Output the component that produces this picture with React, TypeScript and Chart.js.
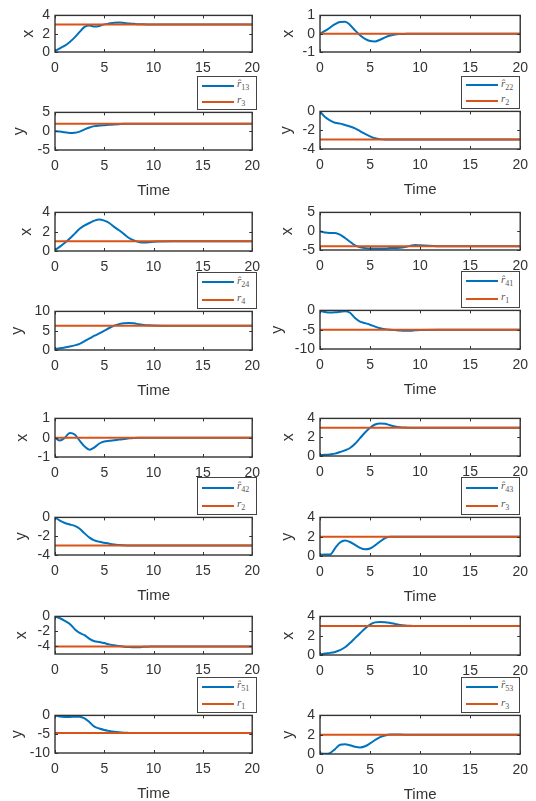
import React, { useEffect, useRef } from "react";
import { Chart, registerables } from "chart.js";

Chart.register(...registerables);

// ---------- data ----------
const TIME = [0, 0.5, 1, 1.5, 2, 2.5, 3, 3.5, 4, 4.5, 5, 5.5, 6, 6.5, 7, 7.5, 8, 8.5, 9, 9.5, 10, 12, 20];
const X_TICKS = [0, 5, 10, 15, 20];

const R13_X = [0.1, 0.4, 0.7, 1.1, 1.6, 2.2, 2.75, 2.9, 2.78, 2.85, 3.02, 3.12, 3.2, 3.22, 3.18, 3.12, 3.08, 3.04, 3.02, 3.01, 3.0, 3.0, 3.0];
const R13_Y = [0, -0.1, -0.3, -0.45, -0.4, -0.1, 0.5, 1.0, 1.35, 1.5, 1.6, 1.7, 1.8, 1.88, 1.95, 1.99, 2.0, 2.0, 2.0, 2.0, 2.0, 2.0, 2.0];
const R22_X = [0, 0.15, 0.33, 0.52, 0.64, 0.65, 0.48, 0.18, -0.08, -0.28, -0.4, -0.42, -0.33, -0.2, -0.1, -0.04, -0.02, -0.01, 0, 0, 0, 0, 0];
const R22_Y = [0, -0.6, -0.95, -1.2, -1.3, -1.45, -1.6, -1.8, -2.1, -2.4, -2.65, -2.85, -2.95, -3.0, -3.0, -3.0, -3.0, -3.0, -3.0, -3.0, -3.0, -3.0, -3.0];
const R24_X = [0.1, 0.45, 0.85, 1.3, 1.8, 2.3, 2.65, 2.9, 3.15, 3.27, 3.15, 2.9, 2.5, 2.15, 1.75, 1.35, 1.1, 0.93, 0.88, 0.9, 0.95, 1.0, 1.0];
const R24_Y = [0.3, 0.45, 0.65, 0.9, 1.2, 1.6, 2.3, 3.0, 3.7, 4.3, 5.0, 5.7, 6.3, 6.7, 6.95, 7.0, 6.9, 6.7, 6.5, 6.4, 6.35, 6.3, 6.3];
const R41_X = [0, -0.35, -0.45, -0.45, -0.9, -1.8, -2.8, -3.8, -4.3, -4.5, -4.6, -4.6, -4.6, -4.6, -4.5, -4.45, -4.4, -4.2, -3.9, -3.65, -3.75, -4.0, -4.0];
const R41_Y = [-0.1, -0.4, -0.55, -0.5, -0.35, -0.2, -0.6, -2.0, -2.9, -3.3, -3.7, -4.2, -4.6, -4.85, -5.0, -5.1, -5.2, -5.25, -5.25, -5.15, -5.05, -5.0, -5.0];
const R42_X = [0, -0.15, 0.0, 0.25, 0.17, -0.15, -0.45, -0.62, -0.5, -0.3, -0.2, -0.16, -0.13, -0.1, -0.07, -0.03, -0.01, 0, 0, 0, 0, 0, 0];
const R42_Y = [0, -0.35, -0.6, -0.75, -0.9, -1.2, -1.7, -2.15, -2.45, -2.6, -2.7, -2.8, -2.88, -2.93, -2.97, -2.98, -3.0, -3.0, -3.0, -3.0, -3.0, -3.0, -3.0];
const R43_X = [0.1, 0.12, 0.17, 0.25, 0.42, 0.6, 0.85, 1.3, 1.9, 2.5, 3.0, 3.35, 3.47, 3.42, 3.27, 3.15, 3.07, 3.03, 3.01, 3.0, 3.0, 3.0, 3.0];
const R43_Y = [0.13, 0.15, 0.15, 0.8, 1.4, 1.6, 1.45, 1.15, 0.85, 0.7, 0.78, 1.1, 1.5, 1.85, 2.0, 2.0, 2.0, 2.0, 2.0, 2.0, 2.0, 2.0, 2.0];
const R51_X = [0, -0.25, -0.6, -1.0, -1.7, -2.2, -2.5, -3.0, -3.3, -3.4, -3.55, -3.72, -3.85, -3.95, -4.02, -4.07, -4.1, -4.1, -4.05, -4.02, -4.0, -4.0, -4.0];
const R51_Y = [0, -0.3, -0.4, -0.4, -0.35, -0.35, -0.8, -1.8, -3.0, -3.5, -3.9, -4.15, -4.35, -4.5, -4.6, -4.65, -4.7, -4.7, -4.7, -4.7, -4.7, -4.7, -4.7];
const R53_X = [0.05, 0.15, 0.22, 0.32, 0.5, 0.8, 1.25, 1.75, 2.25, 2.75, 3.15, 3.38, 3.42, 3.4, 3.32, 3.22, 3.12, 3.06, 3.02, 3.0, 3.0, 3.0, 3.0];
const R53_Y = [0.06, 0.02, 0.1, 0.5, 0.95, 1.0, 0.9, 0.75, 0.68, 0.8, 1.1, 1.45, 1.75, 1.92, 2.02, 2.03, 2.01, 2.0, 2.0, 2.0, 2.0, 2.0, 2.0];

// reference targets [x, y]
const REF_R1_A = [-4, -5];
const REF_R1_B = [-4, -4.7];
const REF_R2 = [0, -3];
const REF_R3 = [3, 2];
const REF_R4 = [1, 6.3];

const TICKS_0_4 = [0, 2, 4];
const TICKS_M1_1 = [-1, 0, 1];
const TICKS_M4_0 = [-4, -2, 0];
const TICKS_M5_5 = [-5, 0, 5];
const TICKS_0_10 = [0, 5, 10];
const TICKS_M10_0 = [-10, -5, 0];

// ---------- styles ----------
const BLUE = "#0072BD";
const ORANGE = "#D95319";
const AXIS = "#333333";
const TEXT = "#333333";
const FONT = "'Liberation Sans', Arial, sans-serif";
const COL_W = 268;
const TOP_PAD = 10;

type PanelDef = {
  colLeft: number;
  plotLeft: number;
  plotRight: number;
  plotTop: number;
  plotBottom: number;
  est: number[];
  refValue: number;
  yMin: number;
  yMax: number;
  yTicks: number[];
  yTitle: string;
  yTitleCx: number;
  showTime: boolean;
};

type LegendDef = {
  left: number;
  top: number;
  width: number;
  height: number;
  estSub: string;
  refSub: string;
};

const L = { colLeft: 0, plotLeft: 55, plotRight: 256 };
const R = { colLeft: 268, plotLeft: 320, plotRight: 522 };

const PANELS: PanelDef[] = [
  { ...L, plotTop: 12, plotBottom: 52, est: R13_X, refValue: REF_R3[0], yMin: 0, yMax: 4, yTicks: TICKS_0_4, yTitle: "x", yTitleCx: 29, showTime: false },
  { ...L, plotTop: 109, plotBottom: 150, est: R13_Y, refValue: REF_R3[1], yMin: -5, yMax: 5, yTicks: TICKS_M5_5, yTitle: "y", yTitleCx: 20, showTime: true },
  { ...R, plotTop: 12, plotBottom: 52, est: R22_X, refValue: REF_R2[0], yMin: -1, yMax: 1, yTicks: TICKS_M1_1, yTitle: "x", yTitleCx: 21, showTime: false },
  { ...R, plotTop: 108, plotBottom: 149, est: R22_Y, refValue: REF_R2[1], yMin: -4, yMax: 0, yTicks: TICKS_M4_0, yTitle: "y", yTitleCx: 19, showTime: true },
  { ...L, plotTop: 209, plotBottom: 251, est: R24_X, refValue: REF_R4[0], yMin: 0, yMax: 4, yTicks: TICKS_0_4, yTitle: "x", yTitleCx: 27, showTime: false },
  { ...L, plotTop: 308, plotBottom: 350, est: R24_Y, refValue: REF_R4[1], yMin: 0, yMax: 10, yTicks: TICKS_0_10, yTitle: "y", yTitleCx: 18, showTime: true },
  { ...R, plotTop: 209, plotBottom: 250, est: R41_X, refValue: REF_R1_A[0], yMin: -5, yMax: 5, yTicks: TICKS_M5_5, yTitle: "x", yTitleCx: 20, showTime: false },
  { ...R, plotTop: 307, plotBottom: 349, est: R41_Y, refValue: REF_R1_A[1], yMin: -10, yMax: 0, yTicks: TICKS_M10_0, yTitle: "y", yTitleCx: 10, showTime: true },
  { ...L, plotTop: 415, plotBottom: 457, est: R42_X, refValue: REF_R2[0], yMin: -1, yMax: 1, yTicks: TICKS_M1_1, yTitle: "x", yTitleCx: 23, showTime: false },
  { ...L, plotTop: 514, plotBottom: 555, est: R42_Y, refValue: REF_R2[1], yMin: -4, yMax: 0, yTicks: TICKS_M4_0, yTitle: "y", yTitleCx: 22, showTime: true },
  { ...R, plotTop: 415, plotBottom: 456, est: R43_X, refValue: REF_R3[0], yMin: 0, yMax: 4, yTicks: TICKS_0_4, yTitle: "x", yTitleCx: 21, showTime: false },
  { ...R, plotTop: 514, plotBottom: 556, est: R43_Y, refValue: REF_R3[1], yMin: 0, yMax: 4, yTicks: TICKS_0_4, yTitle: "y", yTitleCx: 20, showTime: true },
  { ...L, plotTop: 613, plotBottom: 654, est: R51_X, refValue: REF_R1_B[0], yMin: -5, yMax: 0, yTicks: TICKS_M4_0, yTitle: "x", yTitleCx: 22, showTime: false },
  { ...L, plotTop: 712, plotBottom: 753, est: R51_Y, refValue: REF_R1_B[1], yMin: -10, yMax: 0, yTicks: TICKS_M10_0, yTitle: "y", yTitleCx: 18, showTime: true },
  { ...R, plotTop: 613, plotBottom: 655, est: R53_X, refValue: REF_R3[0], yMin: 0, yMax: 4, yTicks: TICKS_0_4, yTitle: "x", yTitleCx: 21, showTime: false },
  { ...R, plotTop: 712, plotBottom: 754, est: R53_Y, refValue: REF_R3[1], yMin: 0, yMax: 4, yTicks: TICKS_0_4, yTitle: "y", yTitleCx: 21, showTime: true },
];

const LEGENDS: LegendDef[] = [
  { left: 197, top: 76, width: 60, height: 34, estSub: "13", refSub: "3" },
  { left: 461, top: 76, width: 59, height: 33, estSub: "22", refSub: "2" },
  { left: 197, top: 272, width: 60, height: 37, estSub: "24", refSub: "4" },
  { left: 461, top: 271, width: 59, height: 37, estSub: "41", refSub: "1" },
  { left: 197, top: 477, width: 60, height: 38, estSub: "42", refSub: "2" },
  { left: 461, top: 477, width: 59, height: 38, estSub: "43", refSub: "3" },
  { left: 197, top: 677, width: 60, height: 36, estSub: "51", refSub: "1" },
  { left: 461, top: 677, width: 59, height: 36, estSub: "53", refSub: "3" },
];

const boxPlugin = {
  id: "matlabBox",
  afterDatasetsDraw(chart: any) {
    const { ctx, chartArea: a, scales } = chart;
    ctx.save();
    ctx.strokeStyle = AXIS;
    ctx.lineWidth = 1;
    const tl = 3;
    ctx.beginPath();
    scales.x.ticks.forEach((t: any) => {
      const px = Math.round(scales.x.getPixelForValue(t.value)) + 0.5;
      ctx.moveTo(px, a.bottom);
      ctx.lineTo(px, a.bottom - tl);
      ctx.moveTo(px, a.top);
      ctx.lineTo(px, a.top + tl);
    });
    scales.y.ticks.forEach((t: any) => {
      const py = Math.round(scales.y.getPixelForValue(t.value)) + 0.5;
      ctx.moveTo(a.left, py);
      ctx.lineTo(a.left + tl, py);
      ctx.moveTo(a.right, py);
      ctx.lineTo(a.right - tl, py);
    });
    ctx.stroke();
    ctx.lineWidth = 1.4;
    ctx.strokeRect(a.left, a.top, a.right - a.left, a.bottom - a.top);
    ctx.restore();
  },
};

function Panel({ p }: { p: PanelDef }) {
  const ref = useRef<HTMLCanvasElement>(null);
  const bottomH = p.showTime ? 50 : 30;
  const ch = TOP_PAD + (p.plotBottom - p.plotTop) + bottomH;
  const yAxisW = p.plotLeft - p.colLeft;
  const rightPad = COL_W - (p.plotRight - p.colLeft);

  useEffect(() => {
    const chart = new Chart(ref.current as HTMLCanvasElement, {
      type: "line",
      data: {
        datasets: [
          {
            data: TIME.map((t, i) => ({ x: t, y: p.est[i] })),
            borderColor: BLUE,
            borderWidth: 2,
            pointRadius: 0,
            cubicInterpolationMode: "monotone",
            order: 1,
          },
          {
            data: [
              { x: X_TICKS[0], y: p.refValue },
              { x: X_TICKS[X_TICKS.length - 1], y: p.refValue },
            ],
            borderColor: ORANGE,
            borderWidth: 2,
            pointRadius: 0,
            order: 0,
          },
        ],
      } as any,
      options: {
        animation: false,
        responsive: false,
        devicePixelRatio: 1,
        events: [],
        layout: { padding: { left: 0, top: TOP_PAD, right: rightPad, bottom: 0 } },
        plugins: { legend: { display: false }, tooltip: { enabled: false } },
        scales: {
          x: {
            type: "linear",
            min: X_TICKS[0],
            max: X_TICKS[X_TICKS.length - 1],
            afterBuildTicks: (s: any) => {
              s.ticks = X_TICKS.map((v) => ({ value: v }));
            },
            afterFit: (s: any) => {
              s.height = bottomH;
            },
            grid: { display: false, drawTicks: false },
            border: { display: false },
            ticks: {
              font: { family: FONT, size: 14 },
              color: TEXT,
              padding: 8,
              maxRotation: 0,
              autoSkip: false,
              callback: (v: any) => String(v),
            },
            title: {
              display: p.showTime,
              text: "Time",
              font: { family: FONT, size: 15 },
              color: TEXT,
              padding: { top: 0, bottom: 0 },
            },
          },
          y: {
            type: "linear",
            min: p.yMin,
            max: p.yMax,
            afterBuildTicks: (s: any) => {
              s.ticks = p.yTicks.map((v) => ({ value: v }));
            },
            afterFit: (s: any) => {
              s.width = yAxisW;
            },
            grid: { display: false, drawTicks: false },
            border: { display: false },
            ticks: {
              font: { family: FONT, size: 14 },
              color: TEXT,
              padding: 5,
              autoSkip: false,
              callback: (v: any) => String(v),
            },
            title: {
              display: true,
              text: p.yTitle,
              font: { family: FONT, size: 16 },
              color: TEXT,
              padding: { top: p.yTitleCx - 9.6, bottom: 0 },
            },
          },
        },
      } as any,
      plugins: [boxPlugin],
    });
    return () => chart.destroy();
  }, []);

  return (
    <div
      style={{
        position: "absolute",
        left: p.colLeft,
        top: p.plotTop - TOP_PAD,
        width: COL_W,
        height: ch,
      }}
    >
      <canvas ref={ref} width={COL_W} height={ch} style={{ width: COL_W, height: ch }} />
    </div>
  );
}

function LegendBox({ l }: { l: LegendDef }) {
  const row = (color: string, hat: boolean, sub: string, cy: number) => (
    <div
      style={{
        position: "absolute",
        left: 4,
        top: cy - 7,
        height: 14,
        display: "flex",
        alignItems: "center",
        whiteSpace: "nowrap",
      }}
    >
      <span style={{ display: "inline-block", width: 32, height: 2, background: color }} />
      <span
        style={{
          marginLeft: 3,
          fontFamily: "'Liberation Serif', 'DejaVu Serif', serif",
          fontStyle: "italic",
          fontSize: 11,
          color: "#555",
          lineHeight: "14px",
        }}
      >
        {hat ? "r\u0302" : "r"}
        <sub style={{ fontSize: 8, fontStyle: "normal" }}>{sub}</sub>
      </span>
    </div>
  );
  return (
    <div
      style={{
        position: "absolute",
        left: l.left,
        top: l.top,
        width: l.width,
        height: l.height,
        border: "1px solid #444",
        boxSizing: "border-box",
        background: "#fff",
        zIndex: 2,
      }}
    >
      {row(BLUE, true, l.estSub, l.height * 0.25)}
      {row(ORANGE, false, l.refSub, l.height * 0.73)}
    </div>
  );
}

export default function App() {
  return (
    <div
      style={{
        position: "absolute",
        left: 0,
        top: 0,
        width: 536,
        height: 801,
        background: "#fff",
        overflow: "hidden",
      }}
    >
      {PANELS.map((p, i) => (
        <Panel key={i} p={p} />
      ))}
      {LEGENDS.map((l, i) => (
        <LegendBox key={"l" + i} l={l} />
      ))}
    </div>
  );
}
